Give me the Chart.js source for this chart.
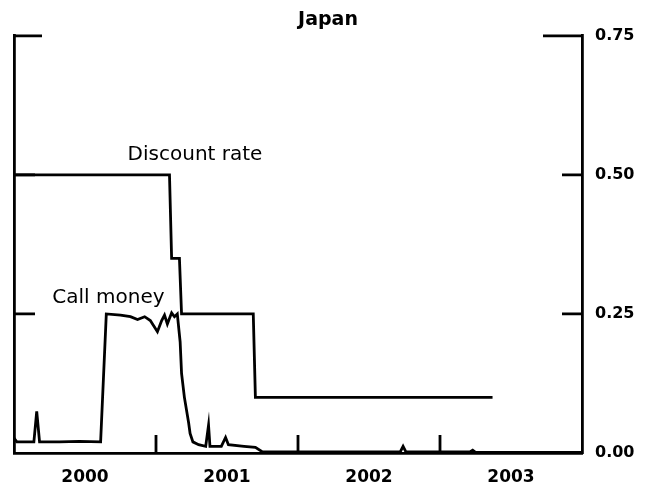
<!DOCTYPE html>
<html lang="en">

<head>
    <meta charset="UTF-8">
    <title>Japan</title>
    <script src="https://cdn.jsdelivr.net/npm/chart.js"></script>
    <style>
        body { margin: 0; background: #fff; }
    </style>
</head>

<body>

    <canvas id="myChart" width="656" height="484"></canvas>

    <script>

        // decimal years; x tick labels sit in the middle of each year
        const xTickPos = [2000.5, 2001.5, 2002.5, 2003.5];
        const xTickLabels = ['2000', '2001', '2002', '2003'];
        const yTicks = [0, 0.25, 0.5, 0.75];

        const discountDates = [2000.0, 2001.095, 2001.11, 2001.165, 2001.18, 2001.685, 2001.70, 2003.37];
        const discountRates = [0.50, 0.50, 0.35, 0.35, 0.25, 0.25, 0.10, 0.10];

        const callDates = [2000.0, 2000.02, 2000.14, 2000.16, 2000.18, 2000.32, 2000.46, 2000.61,
            2000.65, 2000.75, 2000.82, 2000.87, 2000.92, 2000.96, 2001.01, 2001.04, 2001.06, 2001.08,
            2001.11, 2001.13, 2001.15, 2001.17, 2001.18, 2001.20, 2001.23, 2001.24, 2001.26, 2001.30,
            2001.35, 2001.37, 2001.38, 2001.46, 2001.49, 2001.51, 2001.62, 2001.70, 2001.75, 2002.72,
            2002.74, 2002.76, 2003.21, 2003.23, 2003.25, 2004.0];
        const callRates = [0.027, 0.02, 0.02, 0.075, 0.02, 0.02, 0.021, 0.02,
            0.25, 0.248, 0.245, 0.24, 0.245, 0.238, 0.218, 0.238, 0.248, 0.232,
            0.252, 0.245, 0.25, 0.20, 0.143, 0.10, 0.054, 0.035, 0.02, 0.015,
            0.012, 0.05, 0.012, 0.012, 0.028, 0.015, 0.012, 0.01, 0.002, 0.002,
            0.012, 0.002, 0.002, 0.005, 0.001, 0.001];

        const toPoints = (xs, ys) => xs.map((v, i) => ({ x: v, y: ys[i] }));

        Chart.defaults.font.family = '"DejaVu Sans"';
        Chart.defaults.color = '#000';

        // inward tick marks and the two line labels
        const frameMarks = {
            id: 'frameMarks',
            afterDraw(chart) {
                const { ctx, chartArea: a, scales: { x, y } } = chart;
                ctx.save();
                ctx.strokeStyle = '#000';
                ctx.lineWidth = 2.8;
                ctx.beginPath();
                [[0.25, 21], [0.5, 21], [0.75, 28]].forEach(([v, len]) => {
                    const py = y.getPixelForValue(v);
                    ctx.moveTo(a.left, py); ctx.lineTo(a.left + len, py);
                });
                [[0.25, 20], [0.5, 20], [0.75, 39]].forEach(([v, len]) => {
                    const py = y.getPixelForValue(v);
                    ctx.moveTo(a.right - len, py); ctx.lineTo(a.right, py);
                });
                [2001, 2002, 2003].forEach(v => {
                    const px = x.getPixelForValue(v);
                    ctx.moveTo(px, a.bottom); ctx.lineTo(px, a.bottom - 18);
                });
                ctx.stroke();

                ctx.fillStyle = '#000';
                ctx.font = '20px "DejaVu Sans"';
                ctx.textBaseline = 'alphabetic';
                ctx.fillText('Discount rate', x.getPixelForValue(2000.8), y.getPixelForValue(0.526));
                ctx.fillText('Call money', x.getPixelForValue(2000.27), y.getPixelForValue(0.269));
                ctx.restore();
            }
        };

        const ctx = document.getElementById('myChart').getContext('2d');

        const chart = new Chart(ctx, {
            type: 'line',
            data: {
                datasets: [{
                    label: 'Discount rate',
                    data: toPoints(discountDates, discountRates),
                    borderColor: '#000',
                    borderWidth: 2.8,
                    pointRadius: 0,
                    fill: false,
                    yAxisID: 'y'
                }, {
                    label: 'Call money',
                    data: toPoints(callDates, callRates),
                    borderColor: '#000',
                    borderWidth: 2.8,
                    pointRadius: 0,
                    fill: false,
                    yAxisID: 'y'
                }]
            },
            options: {
                responsive: false,
                animation: false,
                layout: { padding: 0 },
                scales: {
                    x: {
                        type: 'linear',
                        position: 'bottom',
                        min: 2000,
                        max: 2004,
                        grid: { display: false },
                        border: { display: true, color: '#000', width: 2.8 },
                        afterBuildTicks: s => { s.ticks = xTickPos.map(v => ({ value: v })); },
                        afterFit: s => { s.height = 31; },
                        ticks: {
                            autoSkip: false,
                            maxRotation: 0,
                            padding: 6,
                            font: { size: 17, weight: 'bold' },
                            callback: (v, i) => xTickLabels[i]
                        }
                    },
                    yL: {
                        type: 'linear',
                        position: 'left',
                        min: 0,
                        max: 0.75,
                        grid: { display: false },
                        border: { display: true, color: '#000', width: 2.8 },
                        ticks: { display: false },
                        afterFit: s => { s.width = 14; }
                    },
                    y: {
                        type: 'linear',
                        position: 'right',
                        min: 0,
                        max: 0.75,
                        grid: { display: false },
                        border: { display: true, color: '#000', width: 2.8 },
                        afterBuildTicks: s => { s.ticks = yTicks.map(v => ({ value: v })); },
                        afterFit: s => { s.width = 74; },
                        ticks: {
                            padding: 5,
                            font: { size: 16, weight: 'bold' },
                            callback: v => v.toFixed(2)
                        }
                    }
                },
                plugins: {
                    legend: { display: false },
                    tooltip: { enabled: false },
                    title: {
                        display: true,
                        text: 'Japan',
                        font: { size: 19, weight: 'bold' },
                        padding: { top: 9, bottom: 4 }
                    }
                }
            },
            plugins: [frameMarks]
        });

    </script>

</body>

</html>
